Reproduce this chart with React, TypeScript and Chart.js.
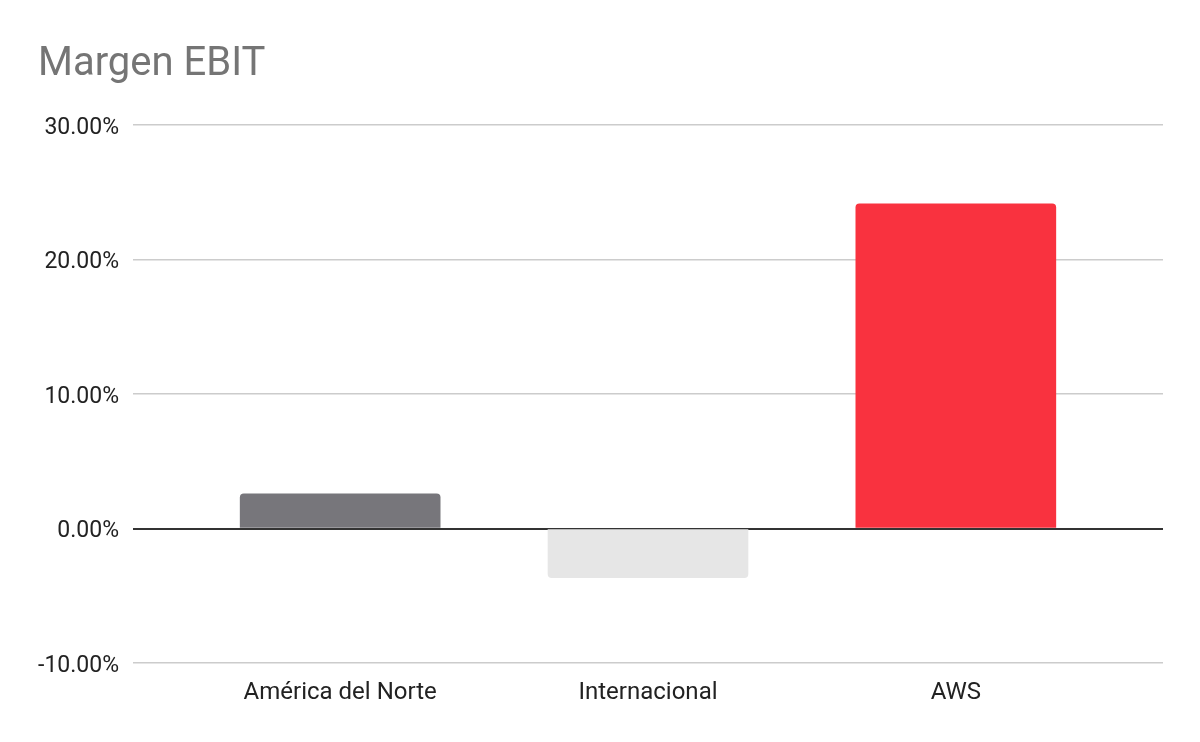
import React, { useEffect, useRef } from "react";
import { Chart, registerables } from "chart.js";

Chart.register(...registerables);

const categories = ["América del Norte", "Internacional", "AWS"];
const margins = [2.57, -3.66, 24.13];
const barColors = ["#77767b", "#e6e6e6", "#f9323f"];
const yTicks = [-10, 0, 10, 20, 30];

export default function App() {
  const ref = useRef<HTMLCanvasElement>(null);
  useEffect(() => {
    const ctx = ref.current!.getContext("2d")!;
    const chart = new Chart(ctx, {
      type: "bar",
      data: {
        datasets: [
          {
            data: margins.map((v, i) => ({ x: i, y: v })),
            backgroundColor: barColors,
            borderRadius: 4,
            borderSkipped: "start",
            barThickness: 200,
          },
        ],
      },
      options: {
        animation: false,
        responsive: false,
        maintainAspectRatio: false,
        layout: { padding: { left: 38, right: 37, top: 0, bottom: 0 } },
        plugins: {
          legend: { display: false },
          tooltip: { enabled: false },
          title: {
            display: true,
            text: "Margen EBIT",
            align: "start",
            color: "#757575",
            font: { family: "Roboto", size: 40, weight: "normal" },
            padding: { top: 41, bottom: 36 },
          },
        },
        scales: {
          x: {
            type: "linear",
            offset: false,
            min: -0.673,
            max: 2.673,
            grid: { display: false },
            border: { display: false },
            afterBuildTicks: (scale: any) => {
              scale.ticks = categories.map((_, i) => ({ value: i }));
            },
            afterFit: (scale: any) => {
              scale.height = 79;
            },
            ticks: {
              autoSkip: false,
              maxRotation: 0,
              padding: 8,
              color: "#222",
              font: { family: "Roboto", size: 24 },
              callback: (v: any) => categories[v] ?? "",
            },
          },
          y: {
            min: yTicks[0],
            max: yTicks[yTicks.length - 1],
            afterBuildTicks: (scale: any) => {
              scale.ticks = yTicks.map((v) => ({ value: v }));
            },
            afterFit: (scale: any) => {
              scale.width = 95;
            },
            border: { display: false },
            grid: {
              drawTicks: false,
              color: (c: any) => (c.tick && c.tick.value === 0 ? "#333333" : "#cccccc"),
              lineWidth: (c: any) => (c.tick && c.tick.value === 0 ? 2 : 1.5),
            },
            ticks: {
              padding: 14,
              labelOffset: 3,
              color: "#222",
              font: { family: "Roboto", size: 23 },
              callback: (v: any) => Number(v).toFixed(2) + "%",
            },
          },
        },
      },
    });
    return () => chart.destroy();
  }, []);
  return (
    <div style={{ position: "fixed", left: 0, top: 0, width: 1200, height: 742, background: "#fff" }}>
      <canvas ref={ref} width={1200} height={742} style={{ display: "block" }} />
    </div>
  );
}
